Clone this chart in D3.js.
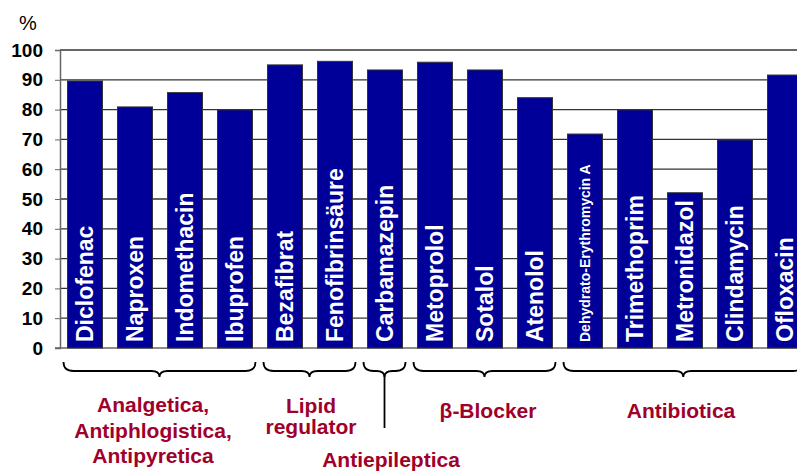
<!DOCTYPE html>
<html>
<head>
<meta charset="utf-8">
<script src="https://cdn.jsdelivr.net/npm/d3@7"></script>
<style>
  body { margin: 0; background: #fff; }
  text { font-family: Arial, "Liberation Sans", sans-serif; font-weight: bold; }
</style>
</head>
<body>
<svg id="chart" width="797" height="473"></svg>
<script>
// substances and % values
const substances = ["Diclofenac", "Naproxen", "Indomethacin", "Ibuprofen", "Bezafibrat",
  "Fenofibrinsäure", "Carbamazepin", "Metoprolol", "Sotalol", "Atenolol",
  "Dehydrato-Erythromycin A", "Trimethoprim", "Metronidazol", "Clindamycin", "Ofloxacin"];
const values = [89.6, 80.9, 85.7, 79.9, 95, 96.2, 93.3, 95.9, 93.3, 84, 71.8, 79.9, 52.1, 69.8, 91.6];
const yTicks = [0, 10, 20, 30, 40, 50, 60, 70, 80, 90, 100];

// groups: first/last substance index and label lines
const groupStart = [0, 4, 6, 7, 10];
const groupEnd = [3, 5, 6, 9, 14];
const groupLabels = [
  ["Analgetica,", "Antiphlogistica,", "Antipyretica"],
  ["Lipid", "regulator"],
  ["Antiepileptica"],
  ["β-Blocker"],
  ["Antibiotica"]
];

const svg = d3.select("#chart");
const plotLeft = 60, plotRight = 810, plotTop = 50, plotBottom = 348;

const x = d3.scaleBand().domain(substances).range([plotLeft, plotRight]).paddingInner(0.3).paddingOuter(0.15);
const y = d3.scaleLinear().domain([0, 100]).range([plotBottom, plotTop]);

// gridlines
svg.append("g").selectAll("line").data(yTicks.filter(d => d > 0)).join("line")
  .attr("x1", plotLeft).attr("x2", 797)
  .attr("y1", d => y(d)).attr("y2", d => y(d))
  .attr("stroke", "#333").attr("stroke-width", 1.3);

// y axis
const yAxis = svg.append("g").attr("transform", `translate(${plotLeft},0)`)
  .call(d3.axisLeft(y).tickValues(yTicks).tickSize(5).tickPadding(12));
yAxis.select(".domain").attr("stroke", "#666").attr("stroke-width", 1.5);
yAxis.selectAll(".tick line").attr("stroke", "#666");
yAxis.selectAll("text").attr("font-size", 19).attr("fill", "#000");

// baseline
svg.append("line").attr("x1", plotLeft - 5).attr("x2", 797)
  .attr("y1", plotBottom).attr("y2", plotBottom).attr("stroke", "#666").attr("stroke-width", 1.5);

svg.append("text").attr("x", 19).attr("y", 30).attr("font-size", 20)
  .style("font-weight", "normal").text("%");

// bars
svg.append("g").selectAll("rect").data(substances).join("rect")
  .attr("x", d => x(d))
  .attr("y", (d, i) => y(values[i]))
  .attr("width", x.bandwidth())
  .attr("height", (d, i) => y(0) - y(values[i]))
  .attr("fill", "#000099")
  .attr("stroke", "#333").attr("stroke-width", 1);

// labels inside bars
svg.append("g").selectAll("text").data(substances).join("text")
  .attr("transform", d => `translate(${x(d) + x.bandwidth() / 2},${plotBottom - 6}) rotate(-90)`)
  .attr("dy", "0.36em")
  .attr("font-size", d => d.length > 20 ? 14 : 23)
  .attr("fill", "#fff")
  .text(d => d);

// braces
const braceTop = 362, braceMid = 371, braceTip = 377;
function bracePath(x1, x2) {
  const xm = (x1 + x2) / 2;
  return `M${x1},${braceTop} Q${x1},${braceMid} ${x1 + 10},${braceMid}` +
    ` L${xm - 8},${braceMid} Q${xm},${braceMid} ${xm},${braceTip}` +
    ` Q${xm},${braceMid} ${xm + 8},${braceMid}` +
    ` L${x2 - 10},${braceMid} Q${x2},${braceMid} ${x2},${braceTop}`;
}
const braceX1 = groupStart.map(i => x(substances[i]) - 4);
const braceX2 = groupEnd.map((i, k) => k === 4 ? 803 : x(substances[i]) + x.bandwidth() + 3);
svg.append("g").selectAll("path").data(groupStart).join("path")
  .attr("d", (d, k) => bracePath(braceX1[k], braceX2[k]))
  .attr("fill", "none").attr("stroke", "#000").attr("stroke-width", 1.8);

// leader line for Antiepileptica
const antiX = (braceX1[2] + braceX2[2]) / 2;
svg.append("line").attr("x1", antiX).attr("x2", antiX).attr("y1", braceTip - 2).attr("y2", 428)
  .attr("stroke", "#000").attr("stroke-width", 1.8);

// group labels
const labelColor = "#a0002a";
const labelX = [153, 311, 391, 488, 681];
const labelY = [412, 413, 467, 418, 418];
const lineGap = [25.5, 21, 0, 0, 0];
groupLabels.forEach((lines, k) => {
  svg.append("text").attr("x", labelX[k]).attr("y", labelY[k])
    .attr("text-anchor", "middle").attr("font-size", 21).attr("fill", labelColor)
    .selectAll("tspan").data(lines).join("tspan")
    .attr("x", labelX[k]).attr("dy", (d, i) => i === 0 ? 0 : lineGap[k])
    .text(d => d);
});
</script>
</body>
</html>
